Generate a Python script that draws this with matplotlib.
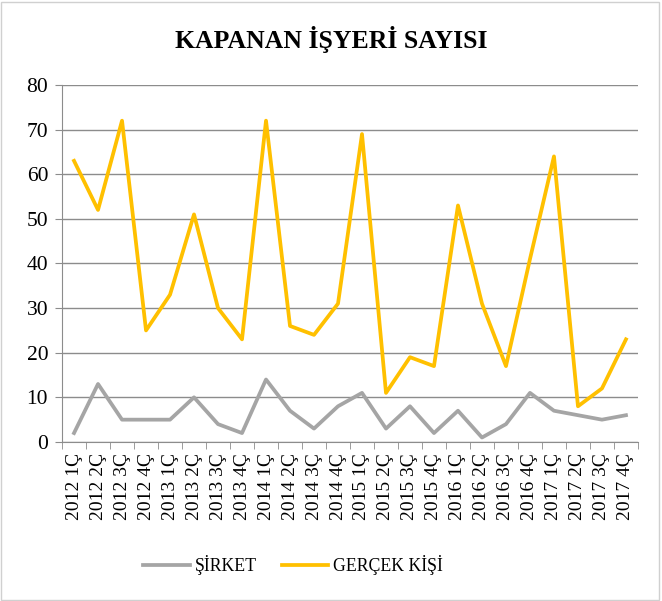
import matplotlib.pyplot as plt
from matplotlib.patches import Rectangle

# data
quarters = ['2012 1Ç', '2012 2Ç', '2012 3Ç', '2012 4Ç',
            '2013 1Ç', '2013 2Ç', '2013 3Ç', '2013 4Ç',
            '2014 1Ç', '2014 2Ç', '2014 3Ç', '2014 4Ç',
            '2015 1Ç', '2015 2Ç', '2015 3Ç', '2015 4Ç',
            '2016 1Ç', '2016 2Ç', '2016 3Ç', '2016 4Ç',
            '2017 1Ç', '2017 2Ç', '2017 3Ç', '2017 4Ç']
sirket = [2, 13, 5, 5, 5, 10, 4, 2, 14, 7, 3, 8,
          11, 3, 8, 2, 7, 1, 4, 11, 7, 6, 5, 6]
gercek = [63, 52, 72, 25, 33, 51, 30, 23, 72, 26, 24, 31,
          69, 11, 19, 17, 53, 31, 17, 41, 64, 8, 12, 23]
y_ticks = [0, 10, 20, 30, 40, 50, 60, 70, 80]

plt.rcParams['font.family'] = ['Liberation Serif', 'DejaVu Serif']

fig = plt.figure(figsize=(6.62, 6.01), dpi=100)
ax = fig.add_axes([0.0937, 0.2646, 0.87, 0.5940])

x = range(len(quarters))
ax.plot(x, sirket, color='#A5A5A5', lw=2.7, label='ŞİRKET', solid_joinstyle='round')
ax.plot(x, gercek, color='#FFC000', lw=2.7, label='GERÇEK KİŞİ', solid_joinstyle='round')

ax.set_xlim(-0.5, len(quarters) - 0.5)
ax.set_ylim(0, 80)
ax.set_yticks(y_ticks)
ax.yaxis.grid(True, color='#8C8C8C', lw=1)
ax.set_axisbelow(True)
ax.tick_params(axis='y', labelsize=15.5, length=5, color='#8C8C8C', pad=5)

# category labels centred, tick marks between categories
ax.set_xticks(list(x))
ax.set_xticklabels(quarters, rotation=90, fontsize=14)
ax.tick_params(axis='x', length=0, pad=8)
ax.set_xticks([i - 0.5 for i in range(len(quarters) + 1)], minor=True)
ax.tick_params(axis='x', which='minor', length=5, color='#8C8C8C')

for s in ['top', 'right']:
    ax.spines[s].set_visible(False)
ax.spines['left'].set_color('#8C8C8C')
ax.spines['bottom'].set_color('#8C8C8C')

fig.suptitle('KAPANAN İŞYERİ SAYISI', fontsize=18.5, fontweight='bold', y=0.957)

fig.legend(loc='center', bbox_to_anchor=(0.443, 0.06), ncol=2, frameon=False,
           fontsize=12.8, handlelength=2.6, columnspacing=1.4, handletextpad=0.3)

fig.patches.append(Rectangle((0.002, 0.002), 0.994, 0.994, transform=fig.transFigure,
                             fill=False, edgecolor='#D0D0D0', lw=1))

fig.savefig('out.png', dpi=100)
